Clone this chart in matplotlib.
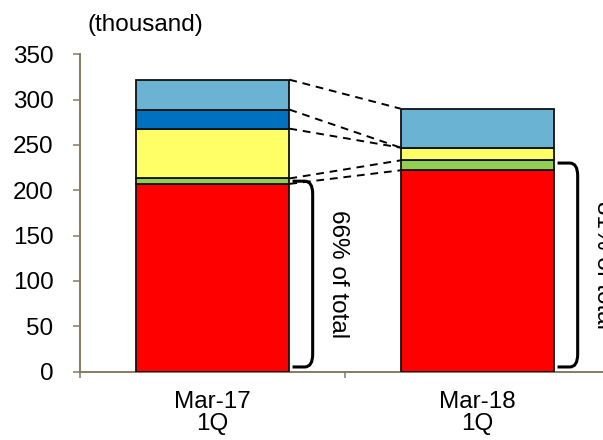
import matplotlib.pyplot as plt
from matplotlib.path import Path
from matplotlib.patches import PathPatch

plt.rcParams["font.family"] = ["Liberation Sans", "DejaVu Sans"]

# Quarterly totals (thousand), stacked bottom to top
periods = ["Mar-17\n1Q", "Mar-18\n1Q"]
red_vals = [207, 222]
green_vals = [6, 11]
yellow_vals = [55, 14]
blue_vals = [21, 0]
lightblue_vals = [33, 43]
share_labels = ["66% of total", "81% of total"]

series = [red_vals, green_vals, yellow_vals, blue_vals, lightblue_vals]
colors = ["#FF0000", "#92D050", "#FFFF66", "#0070C0", "#6BB3D3"]

AXIS_COLOR = "#857A62"
FS = 17.5
BAR_W = 0.58

fig = plt.figure(figsize=(6.03, 4.40), dpi=100)
ax = fig.add_axes([80 / 603, 68.5 / 440, 523 / 603, 317.2 / 440])

x = list(range(len(periods)))
bottoms = [0] * len(periods)
tops = []
for vals, col in zip(series, colors):
    ax.bar(x, vals, BAR_W, bottom=bottoms, color=col, edgecolor="#111111",
           linewidth=1.3, zorder=3)
    bottoms = [b + v for b, v in zip(bottoms, vals)]
    tops.append(list(bottoms))

# dashed connectors between segment tops of the two bars
for seg_tops in tops:
    ax.plot([x[0] + BAR_W / 2, x[1] - BAR_W / 2], [seg_tops[0], seg_tops[1]],
            color="black", ls=(0, (4, 3)), lw=1.4, zorder=2, clip_on=False)

# brackets marking red + green share
for i, label in enumerate(share_labels):
    y_top = red_vals[i] + green_vals[i] - 3
    y_bot = 5
    x0 = x[i] + BAR_W / 2 + 0.012
    x1 = x[i] + BAR_W / 2 + 0.088
    rx, ry = 0.03, 14
    verts = [(x0, y_top), (x1 - rx, y_top), (x1, y_top), (x1, y_top - ry),
             (x1, y_bot + ry), (x1, y_bot), (x1 - rx, y_bot), (x0, y_bot)]
    codes = [Path.MOVETO, Path.LINETO, Path.CURVE3, Path.CURVE3,
             Path.LINETO, Path.CURVE3, Path.CURVE3, Path.LINETO]
    ax.add_patch(PathPatch(Path(verts, codes), fill=False, lw=2.2,
                           edgecolor="black", capstyle="butt", zorder=4,
                           clip_on=False))
    ax.text(x[i] + BAR_W / 2 + 0.182, (y_top + y_bot) / 2, label,
            rotation=-90, ha="center", va="center", fontsize=FS,
            clip_on=False)

ax.set_xlim(-0.5, -0.5 + 523 / 265)
ax.set_ylim(0, 350)
ax.set_yticks(range(0, 351, 50))
ax.set_xticks([-0.5, 0.5])
ax.set_xticklabels([])
ax.set_xticks(x, minor=True)
ax.set_xticklabels(periods, minor=True, fontsize=FS, linespacing=1.0)
ax.tick_params(axis="x", which="minor", length=0, pad=14)
ax.tick_params(axis="x", which="major", length=4.5, width=1.1, color=AXIS_COLOR,
               direction="out")
ax.tick_params(axis="y", length=5, width=1.1, color=AXIS_COLOR, pad=14,
               labelsize=FS)

for side in ["top", "right"]:
    ax.spines[side].set_visible(False)
for side in ["left", "bottom"]:
    ax.spines[side].set_color(AXIS_COLOR)
    ax.spines[side].set_linewidth(1.4)

fig.text(145 / 603, 1 - 25 / 440, "(thousand)", ha="center", va="center",
         fontsize=FS)

fig.savefig("out.png", dpi=100)
